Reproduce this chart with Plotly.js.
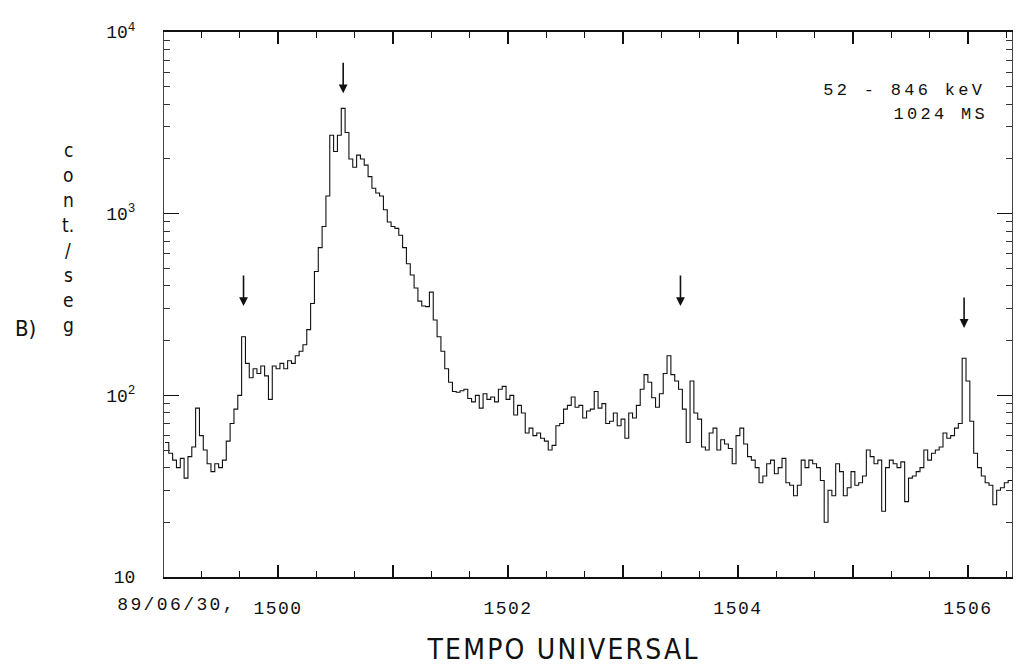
<!DOCTYPE html>
<html>
<head>
<meta charset="utf-8">
<script src="https://cdn.plot.ly/plotly-3.0.1.min.js"></script>
<style>
  html, body { margin: 0; padding: 0; background: #fff; }
  #chart { width: 1018px; height: 665px; }
  .xtick text { letter-spacing: 1.5px; }
  .annotation[data-index="0"] text { letter-spacing: 2.2px; }
  .annotation[data-index="1"] text { letter-spacing: 3.3px; }
  .annotation[data-index="2"] text { letter-spacing: 3.3px; }
  .annotation[data-index="3"] text { letter-spacing: 2.4px; }
</style>
</head>
<body>
<div id="chart"></div>
<script>
// Count rate, 52 - 846 keV channel, 1024 ms bins (sampled every 2 s),
// time in seconds after 15:00:00 UT on 89/06/30.
const startSec = -59;
const stepSec = 2;
const counts = [
  55, 48, 44, 40, 45, 35, 46, 52, 85, 60,
  50, 42, 38, 42, 40, 44, 56, 70, 84, 100,
  210, 150, 125, 140, 132, 145, 128, 95, 145, 140,
  150, 140, 155, 150, 165, 175, 190, 230, 320, 480,
  650, 850, 1250, 2700, 2200, 2700, 3800, 2800, 2000, 1800,
  2100, 2000, 1850, 1600, 1380, 1300, 1250, 1050, 900, 850,
  830, 760, 650, 530, 460, 390, 330, 310, 308, 370,
  260, 210, 175, 140, 118, 105, 104, 106, 108, 96,
  92, 100, 85, 102, 95, 98, 92, 108, 112, 95,
  100, 78, 88, 80, 62, 66, 60, 62, 58, 56,
  50, 53, 68, 70, 84, 88, 98, 86, 88, 75,
  82, 84, 105, 85, 90, 70, 72, 80, 68, 74,
  58, 80, 75, 88, 108, 130, 118, 97, 86, 102,
  132, 165, 130, 120, 108, 84, 55, 120, 80, 74,
  52, 50, 62, 66, 50, 57, 54, 51, 42, 60,
  66, 54, 46, 44, 40, 33, 36, 42, 44, 37,
  40, 45, 33, 32, 28, 32, 44, 40, 44, 42,
  40, 34, 20, 30, 28, 42, 38, 28, 31, 38,
  32, 33, 36, 50, 46, 42, 44, 23, 40, 44,
  42, 40, 43, 26, 35, 36, 38, 40, 50, 44,
  48, 50, 52, 62, 58, 60, 66, 70, 160, 120,
  72, 48, 40, 36, 33, 32, 25, 30, 31, 33, 34, 34
];
const times = counts.map((_, i) => startSec + i * stepSec);

// Event markers (seconds after 15:00:00, count level at arrow tip)
const arrowTimes = [-18, 34, 210, 358];
const arrowTips = [310, 4600, 310, 235];

// Axis labels
const xTickVals = [0, 60, 120, 180, 240, 300, 360];
const xTickText = ['1500', '', '1502', '', '1504', '', '1506'];
const yTickVals = [10, 100, 1000, 10000];
const yTickText = ['10', '10<sup>2</sup>', '10<sup>3</sup>', '10<sup>4</sup>'];
const yTitleChars = ['c', 'o', 'n', 't.', '/', 's', 'e', 'g'];
const dateLabel = '89/06/30,';
const xTitle = 'TEMPO UNIVERSAL';
const bandLabel = '52 - 846 keV';
const binLabel = '1024 MS';
const panelLabel = 'B)';

// Frame geometry
const W = 1018, H = 665;
const M = { l: 164, r: 6, t: 32, b: 88 };
const px2x = (px) => (px - M.l) / (W - M.l - M.r);
const px2y = (py) => (H - M.b - py) / (H - M.t - M.b);

const xMinor = [];
for (let s = -40; s <= 380; s += 20) if (s % 60 !== 0) xMinor.push(s);
const yMinor = [];
[10, 100, 1000].forEach(d => { for (let k = 2; k <= 9; k++) yMinor.push(k * d); });

const monoFont = { family: 'Liberation Mono, DejaVu Sans Mono, monospace', color: '#111' };
const narrowFam = 'Liberation Sans Narrow, DejaVu Sans Condensed, Liberation Sans, sans-serif';

const annotations = [
  { text: xTitle, xref: 'paper', yref: 'paper', x: px2x(563), y: px2y(649),
    xanchor: 'center', yanchor: 'middle', showarrow: false, borderpad: 0,
    font: { family: narrowFam, size: 28, color: '#111' } },
  { text: bandLabel, xref: 'paper', yref: 'paper', x: px2x(904), y: px2y(91),
    xanchor: 'center', yanchor: 'middle', showarrow: false,
    font: Object.assign({ size: 17 }, monoFont) },
  { text: binLabel, xref: 'paper', yref: 'paper', x: px2x(940), y: px2y(115),
    xanchor: 'center', yanchor: 'middle', showarrow: false,
    font: Object.assign({ size: 17 }, monoFont) },
  { text: dateLabel, xref: 'paper', yref: 'paper', x: px2x(176), y: px2y(605),
    xanchor: 'center', yanchor: 'middle', showarrow: false,
    font: Object.assign({ size: 18 }, monoFont) },
  { text: panelLabel, xref: 'paper', yref: 'paper', x: px2x(25), y: px2y(328),
    xanchor: 'center', yanchor: 'middle', showarrow: false,
    font: { family: narrowFam, size: 22, color: '#111' } }
];
yTitleChars.forEach((ch, i) => {
  annotations.push({ text: ch, xref: 'paper', yref: 'paper', x: px2x(68), y: px2y(150 + 25 * i),
    xanchor: 'center', yanchor: 'middle', showarrow: false, borderpad: 0,
    font: { family: narrowFam, size: 19, color: '#111' } });
});
arrowTimes.forEach((t, i) => {
  annotations.push({ text: '', x: t, y: Math.log10(arrowTips[i]), xref: 'x', yref: 'y',
    showarrow: true, ax: 0, ay: -32, arrowhead: 2, arrowsize: 1.1, arrowwidth: 1.6,
    arrowcolor: '#111' });
});

const trace = {
  x: times, y: counts, type: 'scatter', mode: 'lines',
  line: { color: '#111', width: 1.1, shape: 'hv' },
  hoverinfo: 'x+y'
};

const layout = {
  width: W, height: H,
  margin: M,
  paper_bgcolor: '#fff', plot_bgcolor: '#fff',
  showlegend: false,
  xaxis: {
    range: [-59.5, 383], showgrid: false, zeroline: false,
    showline: true, linecolor: '#111', linewidth: 1.6, mirror: 'allticks',
    tickmode: 'array', tickvals: xTickVals, ticktext: xTickText,
    ticks: 'inside', ticklen: 12, tickwidth: 1.3, tickcolor: '#111',
    ticklabelstandoff: 14,
    tickfont: Object.assign({ size: 18 }, monoFont),
    minor: { tickmode: 'array', tickvals: xMinor, ticks: 'inside', ticklen: 6, tickwidth: 1, tickcolor: '#111' }
  },
  yaxis: {
    type: 'log', range: [1, 4], showgrid: false, zeroline: false,
    showline: true, linecolor: '#444', linewidth: 1, mirror: 'allticks',
    tickmode: 'array', tickvals: yTickVals, ticktext: yTickText,
    ticks: 'inside', ticklen: 15, tickwidth: 1.2, tickcolor: '#111',
    ticklabelstandoff: 24,
    tickfont: Object.assign({ size: 18 }, monoFont),
    minor: { tickmode: 'array', tickvals: yMinor, ticks: 'inside', ticklen: 6, tickwidth: 1, tickcolor: '#333' }
  },
  annotations: annotations
};

Plotly.newPlot('chart', [trace], layout, { displayModeBar: false, staticPlot: true });
</script>
</body>
</html>
